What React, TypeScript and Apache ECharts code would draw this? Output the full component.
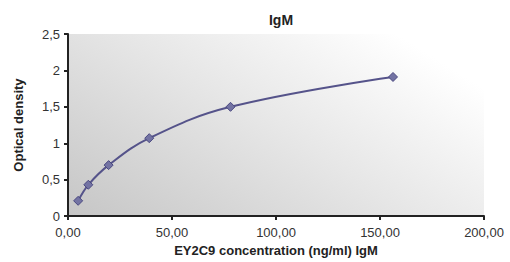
import React, { useEffect, useRef } from "react";
import * as echarts from "echarts";

const concentrations = [4.88, 9.77, 19.53, 39.06, 78.13, 156.25];
const opticalDensity = [0.21, 0.43, 0.7, 1.07, 1.5, 1.91];
const titleText = "IgM";
const xAxisName = "EY2C9 concentration (ng/ml) IgM";
const yAxisName = "Optical density";

export default function App() {
  const ref = useRef<HTMLDivElement>(null);
  useEffect(() => {
    if (!ref.current) return;
    const chart = echarts.init(ref.current, null, { renderer: "svg" });
    const font = "'Liberation Sans', Arial, sans-serif";
    chart.setOption({
      animation: false,
      textStyle: { fontFamily: font },
      title: {
        text: titleText,
        left: 276,
        textAlign: "center",
        top: 8,
        textStyle: { fontSize: 14, fontWeight: "bold", color: "#222", fontFamily: font },
      },
      grid: {
        left: 68,
        right: 26,
        top: 34,
        bottom: 45,
        show: true,
        borderWidth: 0,
        backgroundColor: new echarts.graphic.LinearGradient(0, 1, 1, 0.3, [
          { offset: 0, color: "#c6c6c6" },
          { offset: 0.55, color: "#e6e6e6" },
          { offset: 1, color: "#ffffff" },
        ]),
      },
      xAxis: {
        type: "value",
        min: 0,
        max: 200,
        interval: 50,
        name: xAxisName,
        nameLocation: "middle",
        nameGap: 27,
        nameTextStyle: { fontSize: 13, fontWeight: "bold", color: "#222", fontFamily: font },
        axisLine: { show: true, lineStyle: { color: "#222", width: 2 } },
        axisTick: { show: true, length: 4, lineStyle: { color: "#222", width: 2 } },
        axisLabel: {
          fontSize: 13,
          color: "#333",
          margin: 10,
          formatter: (v: number) => v.toFixed(2).replace(".", ","),
        },
        splitLine: { show: false },
      },
      yAxis: {
        type: "value",
        min: 0,
        max: 2.5,
        interval: 0.5,
        name: yAxisName,
        nameLocation: "middle",
        nameGap: 43,
        nameTextStyle: { fontSize: 13, fontWeight: "bold", color: "#222", fontFamily: font },
        axisLine: { show: true, lineStyle: { color: "#222", width: 2 } },
        axisTick: { show: true, length: 4, lineStyle: { color: "#222", width: 2 } },
        axisLabel: {
          fontSize: 13,
          color: "#333",
          margin: 8,
          formatter: (v: number) => String(v).replace(".", ","),
        },
        splitLine: {
          show: true,
          lineStyle: {
            width: 2,
            color: new echarts.graphic.LinearGradient(0, 0, 1, 0, [
              { offset: 0, color: "#7a7a7a" },
              { offset: 0.6, color: "#a8a8a8" },
              { offset: 1, color: "#ececec" },
            ]),
          },
        },
      },
      series: [
        {
          type: "line",
          data: concentrations.map((c, i) => [c, opticalDensity[i]]),
          smooth: 0.4,
          symbol: "diamond",
          symbolSize: 9,
          lineStyle: { color: "#55538a", width: 2 },
          itemStyle: { color: "#7373a3", borderColor: "#4a4880", borderWidth: 1 },
        },
      ],
    });
    return () => chart.dispose();
  }, []);
  return <div ref={ref} style={{ width: 510, height: 262, position: "absolute", left: 0, top: 0 }} />;
}
